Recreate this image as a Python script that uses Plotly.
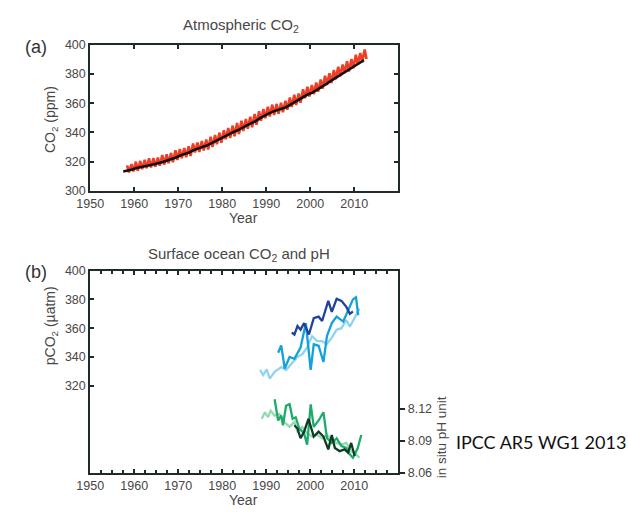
import plotly.graph_objects as go

# ---------------- Panel (a): atmospheric CO2 ----------------
# Mauna Loa: seasonal maxima (≈May) and minima (≈Sep/Oct), ppm
ml_years = list(range(1958, 2013))
ml_peak = [317.5, 318.3, 320.0, 320.5, 321.3, 322.3, 322.4, 322.8, 324.6, 325.0,
           326.0, 327.8, 328.6, 329.3, 330.5, 332.5, 333.1, 334.2, 335.2, 337.1,
           338.3, 339.9, 341.5, 343.1, 344.7, 346.5, 348.0, 349.3, 350.8, 352.6,
           354.5, 356.0, 357.6, 359.1, 359.6, 360.3, 361.8, 363.9, 365.8, 366.7,
           369.7, 371.4, 372.6, 374.3, 376.3, 378.8, 380.6, 382.9, 385.1, 386.6,
           388.8, 390.3, 393.2, 394.5, 396.8]
ml_trough = [312.7, 313.3, 313.8, 314.8, 315.5, 316.0, 316.6, 317.2, 318.0, 318.9,
             319.6, 321.2, 322.3, 323.1, 323.8, 326.3, 326.7, 327.6, 328.4, 330.0,
             331.9, 333.0, 335.3, 336.2, 337.4, 339.0, 341.0, 342.6, 343.6, 345.3,
             348.0, 349.7, 350.9, 352.0, 352.9, 353.9, 355.6, 357.5, 358.9, 360.3,
             363.5, 364.6, 366.3, 367.9, 370.0, 372.5, 373.9, 376.5, 378.6, 380.8,
             381.8, 384.0, 386.4, 388.2, 390.4]

# South Pole record, ppm
spo_years = [1957.5, 1958.5, 1959.5, 1960.5, 1961.5, 1962.5, 1963.5, 1964.5, 1965.5,
             1966.5, 1967.5, 1968.5, 1969.5, 1970.5, 1971.5, 1972.5, 1973.5, 1974.5,
             1975.5, 1976.5, 1977.5, 1978.5, 1979.5, 1980.5, 1981.5, 1982.5, 1983.5,
             1984.5, 1985.5, 1986.5, 1987.5, 1988.5, 1989.5, 1990.5, 1991.5, 1992.5,
             1993.5, 1994.5, 1995.5, 1996.5, 1997.5, 1998.5, 1999.5, 2000.5, 2001.5,
             2002.5, 2003.5, 2004.5, 2005.5, 2006.5, 2007.5, 2008.5, 2009.5, 2010.5,
             2011.5, 2012.2]
spo_co2 = [313.3, 313.9, 314.6, 315.7, 316.5, 317.3, 317.6, 318.2, 318.8,
           319.8, 320.8, 321.7, 322.9, 324.3, 325.3, 326.3, 327.9, 329.2,
           330.1, 331.0, 332.6, 334.1, 335.6, 337.4, 338.9, 340.2, 341.5,
           343.3, 344.7, 346.2, 347.6, 349.6, 351.4, 352.9, 354.3, 355.2,
           355.9, 357.3, 359.1, 360.9, 362.2, 364.1, 366.2, 367.3, 369.0,
           370.8, 372.9, 375.0, 376.9, 379.0, 381.0, 382.9, 384.7, 386.8,
           388.4, 389.5]

# ---------------- Panel (b): surface ocean pCO2 (µatm) ----------------
pco2_dark_x = [1995.8, 1996.4, 1997.1, 1997.8, 1998.6, 1999.7, 2000.8, 2001.9, 2002.7,
               2004.1, 2004.9, 2006.0, 2007.1, 2008.2, 2009.0, 2009.7]
pco2_dark = [357.0, 355.6, 361.5, 359.0, 363.5, 355.6, 367.0, 368.0, 365.0,
             379.0, 371.4, 380.4, 379.0, 374.8, 370.0, 371.6]

pco2_mid_x = [1992.7, 1993.4, 1994.2, 1995.3, 1996.4, 1997.8, 1999.0, 2000.1, 2000.8,
              2001.9, 2003.0, 2003.8, 2004.9, 2006.0, 2007.5, 2008.6, 2009.7, 2010.4,
              2010.9]
pco2_mid = [343.0, 348.0, 332.0, 340.0, 338.7, 346.6, 363.5, 331.0, 348.8,
            347.8, 336.5, 354.5, 363.5, 368.0, 364.6, 372.5, 380.0, 381.5,
            369.0]

pco2_light_x = [1988.6, 1989.3, 1990.1, 1990.8, 1991.9, 1993.4, 1994.5, 1996.0, 1997.1,
                1998.2, 1999.3, 2000.4, 2001.6, 2002.7, 2003.8, 2004.9, 2006.0, 2007.1,
                2008.2, 2009.0, 2010.1, 2010.8, 2011.2]
pco2_light = [331.0, 327.5, 331.5, 325.0, 329.7, 333.0, 331.0, 336.5, 340.0,
              342.0, 346.6, 354.5, 351.0, 351.0, 349.0, 353.4, 359.0, 360.0,
              365.7, 361.0, 368.0, 371.4, 373.6]

# ---------------- Panel (b): in situ pH ----------------
ph_light_x = [1989.0, 1989.7, 1990.4, 1991.0, 1991.9, 1993.0, 1994.1, 1995.3, 1996.4,
              1997.1, 1998.2, 1999.3, 2000.4, 2001.6, 2002.7, 2003.8, 2004.9, 2006.0,
              2007.1, 2008.2, 2009.3, 2010.4, 2011.2]
ph_light = [8.1106, 8.1166, 8.1121, 8.1182, 8.1136, 8.1152, 8.1076, 8.1030, 8.1076,
            8.0985, 8.1030, 8.0970, 8.0940, 8.0955, 8.0924, 8.0955, 8.0910, 8.0880,
            8.0864, 8.0880, 8.0803, 8.0773, 8.0742]

ph_mid_x = [1991.9, 1992.7, 1993.4, 1993.8, 1994.5, 1995.3, 1996.0, 1996.7, 1997.5,
            1998.6, 1999.3, 2000.1, 2000.8, 2001.9, 2003.0, 2003.8, 2004.9, 2006.0,
            2007.1, 2008.2, 2009.0, 2009.7, 2010.8, 2011.6]
ph_mid = [8.1288, 8.1090, 8.1136, 8.1045, 8.1227, 8.1242, 8.1106, 8.1120, 8.1015,
          8.0970, 8.0864, 8.1240, 8.1030, 8.1090, 8.1167, 8.0924, 8.0880, 8.0924,
          8.0850, 8.0833, 8.0773, 8.0742, 8.0833, 8.0955]

ph_dark_x = [1996.4, 1997.1, 1997.8, 1998.6, 1999.6, 2000.1, 2000.8, 2001.9, 2003.0,
             2004.1, 2004.9, 2005.6, 2006.7, 2007.8, 2008.6, 2009.3, 2010.1]
ph_dark = [8.1045, 8.1015, 8.0924, 8.0985, 8.1106, 8.1045, 8.0940, 8.0985, 8.0940,
           8.0820, 8.0955, 8.0833, 8.0803, 8.0820, 8.0790, 8.0880, 8.0758]

decade_ticks = [1950, 1960, 1970, 1980, 1990, 2000, 2010]

# ---------------- styling ----------------
FRAME = "#1f2b2b"
TEXT = "#474747"
FONT = "Liberation Sans, Arial, sans-serif"
W, H = 628, 513

# Mauna Loa zig-zag: alternate seasonal maxima and minima through the year
ml_x, ml_y = [], []
for yr, pk, tr in zip(ml_years, ml_peak, ml_trough):
    ml_x += [yr + 0.37, yr + 0.79]
    ml_y += [pk, tr]

fig = go.Figure()

fig.add_trace(go.Scatter(x=ml_x, y=ml_y, mode="lines",
                         line=dict(color="#ef3e26", width=2.6),
                         xaxis="x", yaxis="y", showlegend=False))
fig.add_trace(go.Scatter(x=spo_years, y=spo_co2, mode="lines",
                         line=dict(color="#111111", width=2.6),
                         xaxis="x", yaxis="y", showlegend=False))

ocean = [
    (pco2_light_x, pco2_light, "#8ed4f0", "y2"),
    (pco2_mid_x, pco2_mid, "#12a2d8", "y2"),
    (pco2_dark_x, pco2_dark, "#22409c", "y2"),
    (ph_light_x, ph_light, "#93d9b2", "y3"),
    (ph_mid_x, ph_mid, "#1eab6a", "y3"),
    (ph_dark_x, ph_dark, "#0f3b24", "y3"),
]
for xs, ys, col, ax in ocean:
    fig.add_trace(go.Scatter(x=xs, y=ys, mode="lines",
                             line=dict(color=col, width=2.3),
                             xaxis="x2", yaxis=ax, showlegend=False))

x_dom = [78 / W, 393 / W]
top_dom = [(H - 189) / H, (H - 39) / H]
bot_dom = [(H - 479) / H, (H - 271) / H]

axis_common = dict(showline=True, linewidth=2, linecolor=FRAME,
                   showgrid=False, zeroline=False,
                   tickfont=dict(family=FONT, size=12.5, color=TEXT),
                   tickcolor=FRAME, tickwidth=1.5)

fig.update_layout(
    width=W, height=H,
    margin=dict(l=0, r=0, t=0, b=0),
    paper_bgcolor="white", plot_bgcolor="white",
    xaxis=dict(domain=x_dom, anchor="y", range=[1950, 2020],
               tickvals=decade_ticks, ticks="inside", ticklen=4,
               mirror="ticks", **axis_common),
    yaxis=dict(domain=top_dom, anchor="x", range=[300, 400],
               tickvals=[300, 320, 340, 360, 380, 400], ticks="inside", ticklen=4,
               mirror="ticks", **axis_common),
    xaxis2=dict(domain=x_dom, anchor="y2", range=[1950, 2020],
                tickvals=decade_ticks, ticks="inside", ticklen=4,
                minor=dict(dtick=2.5, tick0=1950, ticks="inside", ticklen=3,
                           tickcolor=FRAME),
                mirror="ticks", **axis_common),
    yaxis2=dict(domain=bot_dom, anchor="x2", range=[259.5, 400],
                tickvals=[320, 340, 360, 380, 400], ticks="inside", ticklen=4,
                **axis_common),
    yaxis3=dict(overlaying="y2", anchor="x2", side="right", range=[8.06, 8.249],
                tickvals=[8.06, 8.09, 8.12], ticktext=["8.06", "8.09", "8.12"],
                ticks="outside", ticklen=5, **axis_common),
)

def label(text, x, y, size=14, angle=0, color=TEXT, family=FONT, xanchor="center"):
    fig.add_annotation(text=text, x=x / W, y=1 - y / H, xref="paper", yref="paper",
                       showarrow=False, textangle=angle, xanchor=xanchor,
                       yanchor="middle",
                       font=dict(family=family, size=size, color=color))

label("Atmospheric CO<sub>2</sub>", 232, 19, size=15)
label("(a)", 22, 41, size=18, color="#333333")
label("CO<sub>2</sub> (ppm)", 38, 116, angle=-90)
label("Year", 235, 217)

label("Surface ocean CO<sub>2</sub> and pH", 230, 254, size=15)
label("(b)", 22, 272, size=18, color="#333333")
label("pCO<sub>2</sub> (µatm)", 38, 328, angle=-90)
label("Year", 235, 507)
label("in situ pH unit", 438, 442, angle=-90, size=13.5)

label("IPCC AR5 WG1 2013", 450, 447, size=18, color="#111111",
      family="Lato, sans-serif", xanchor="left")

fig.write_html("out.html")
